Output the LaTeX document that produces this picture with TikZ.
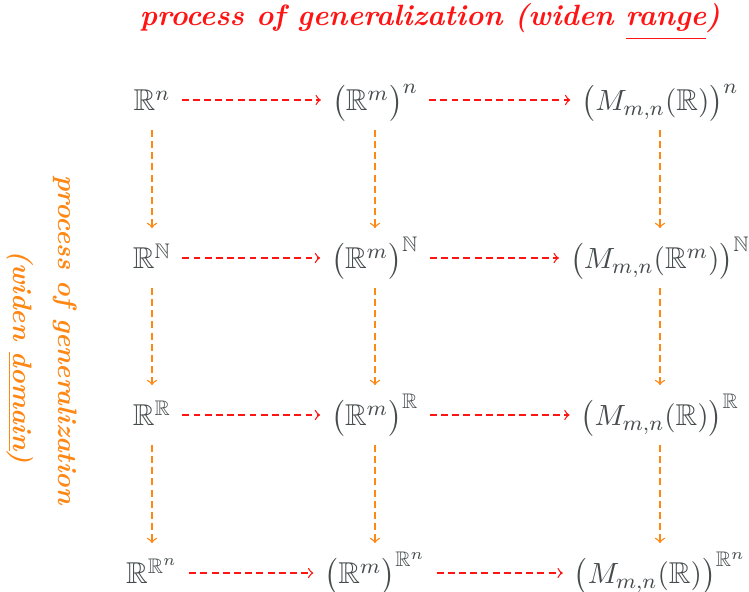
\documentclass[tikz,border=0pt]{standalone}
\usepackage{amsmath,amssymb}
\definecolor{mathgray}{RGB}{70,76,78}
\definecolor{rangered}{RGB}{255,20,20}
\definecolor{domainorange}{RGB}{255,135,20}
\begin{document}
\begin{tikzpicture}[
  x=0.375pt,y=-0.375pt,
  space/.style={text=mathgray, font=\fontsize{11.3}{13.5}\selectfont, inner sep=4pt, text height=11pt, text depth=3pt},
  widen/.style={->, >=to, line width=0.5pt, dash pattern=on 2.6pt off 1.6pt},
  rangearrow/.style={widen, draw=rangered},
  domainarrow/.style={widen, draw=domainorange},
  heading/.style={font=\bfseries\itshape, inner sep=0pt}
]

% Canvas
\path[use as bounding box] (0,0) rectangle (749,592);

% Titles
\node[heading, text=rangered, font=\fontsize{11}{13}\selectfont\bfseries\itshape] (rangetitle) at (430,22)
  {process of generalization (widen \underline{\raisebox{0pt}[\height][\dimexpr\depth+1pt]{range}})};
\node[heading, text=domainorange, rotate=-90] (domaintitle) at (65,340)
  {process of generalization};
\node[heading, text=domainorange, rotate=-90] (domainsub) at (20,357)
  {(widen \underline{domain})};

% Row 1
\node[space] (rn)  at (152,100) {$\mathbb{R}^n$};
\node[space] (rmn) at (375,100) {$\bigl(\mathbb{R}^m\bigr)^n$};
\node[space] (mn)  at (660,100) {$\bigl(M_{m,n}(\mathbb{R})\bigr)^n$};

% Row 2
\node[space] (rN)  at (152,258) {$\mathbb{R}^{\mathbb{N}}$};
\node[space] (rmN) at (375,258) {$\bigl(\mathbb{R}^m\bigr)^{\mathbb{N}}$};
\node[space] (mN)  at (660,258) {$\bigl(M_{m,n}(\mathbb{R}^m)\bigr)^{\mathbb{N}}$};

% Row 3
\node[space] (rR)  at (152,415) {$\mathbb{R}^{\mathbb{R}}$};
\node[space] (rmR) at (375,415) {$\bigl(\mathbb{R}^m\bigr)^{\mathbb{R}}$};
\node[space] (mR)  at (660,415) {$\bigl(M_{m,n}(\mathbb{R})\bigr)^{\mathbb{R}}$};

% Row 4
\node[space] (rRn)  at (152,573) {$\mathbb{R}^{\mathbb{R}^n}$};
\node[space] (rmRn) at (375,573) {$\bigl(\mathbb{R}^m\bigr)^{\mathbb{R}^n}$};
\node[space] (mRn)  at (660,573) {$\bigl(M_{m,n}(\mathbb{R})\bigr)^{\mathbb{R}^n}$};

% Widen range
\foreach \a/\b in {rn/rmn, rmn/mn, rN/rmN, rmN/mN, rR/rmR, rmR/mR, rRn/rmRn, rmRn/mRn}
  \draw[rangearrow] (\a) -- (\b);

% Widen domain
\foreach \a/\b in {rn/rN, rN/rR, rR/rRn, rmn/rmN, rmN/rmR, rmR/rmRn, mn/mN, mN/mR, mR/mRn}
  \draw[domainarrow] (\a) -- (\b);

\end{tikzpicture}
\end{document}
